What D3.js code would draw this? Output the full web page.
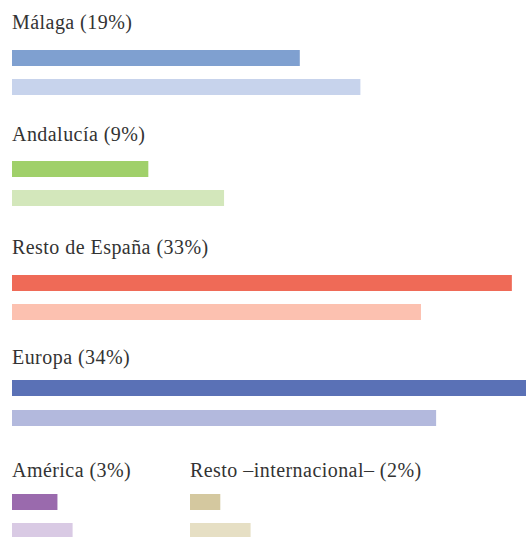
<!DOCTYPE html>
<html>
<head>
<meta charset="utf-8">
<script src="https://cdn.jsdelivr.net/npm/d3@7"></script>
<style>
  html, body { margin: 0; padding: 0; background: #fff; }
  svg { display: block; }
</style>
</head>
<body>
<div id="chart"></div>
<script>
// origen de los visitantes: % actual (barra oscura) y % anterior (barra clara)
const regions = ["Málaga", "Andalucía", "Resto de España", "Europa", "América", "Resto –internacional–"];
const current = [19, 9, 33, 34, 3, 2];
const previous = [23, 14, 27, 28, 4, 4];
const darkColors = ["#7fa0d0", "#a0d06a", "#ef6a57", "#5a71b6", "#9a6aad", "#d4c89f"];
const lightColors = ["#c7d3ec", "#d3e7bb", "#fcc1b0", "#b3b9dd", "#d9cae4", "#e6dfc4"];

const width = 526, height = 537;

const svg = d3.select("#chart").append("svg")
  .attr("width", width)
  .attr("height", height);

const x = d3.scaleLinear().domain([0, 34]).range([0, 515]);

// maquetacion: las 4 primeras apiladas, las 2 ultimas comparten fila
const textY = [29, 141, 254, 364, 477, 477];
const darkY = [50, 161, 275, 380, 494, 494];
const lightY = [79, 190, 304, 410, 523, 523];
const colX = [12, 12, 12, 12, 12, 190];
const barH = 16;

const data = regions.map((name, i) => ({
  name, cur: current[i], prev: previous[i],
  dark: darkColors[i], light: lightColors[i],
  x0: colX[i], ty: textY[i], dy: darkY[i], ly: lightY[i]
}));

const g = svg.selectAll("g.region")
  .data(data)
  .join("g")
  .attr("class", "region")
  .attr("transform", d => `translate(${d.x0}, 0)`);

g.append("text")
  .attr("x", 0)
  .attr("y", d => d.ty)
  .attr("fill", "#333")
  .style("font-family", "'Liberation Serif', 'DejaVu Serif', serif")
  .style("font-size", "20px")
  .style("letter-spacing", "0.45px")
  .text(d => `${d.name} (${d.cur}%)`);

g.append("rect")
  .attr("x", 0)
  .attr("y", d => d.dy)
  .attr("width", d => x(d.cur))
  .attr("height", barH)
  .attr("fill", d => d.dark);

g.append("rect")
  .attr("x", 0)
  .attr("y", d => d.ly)
  .attr("width", d => x(d.prev))
  .attr("height", barH)
  .attr("fill", d => d.light);
</script>
</body>
</html>
